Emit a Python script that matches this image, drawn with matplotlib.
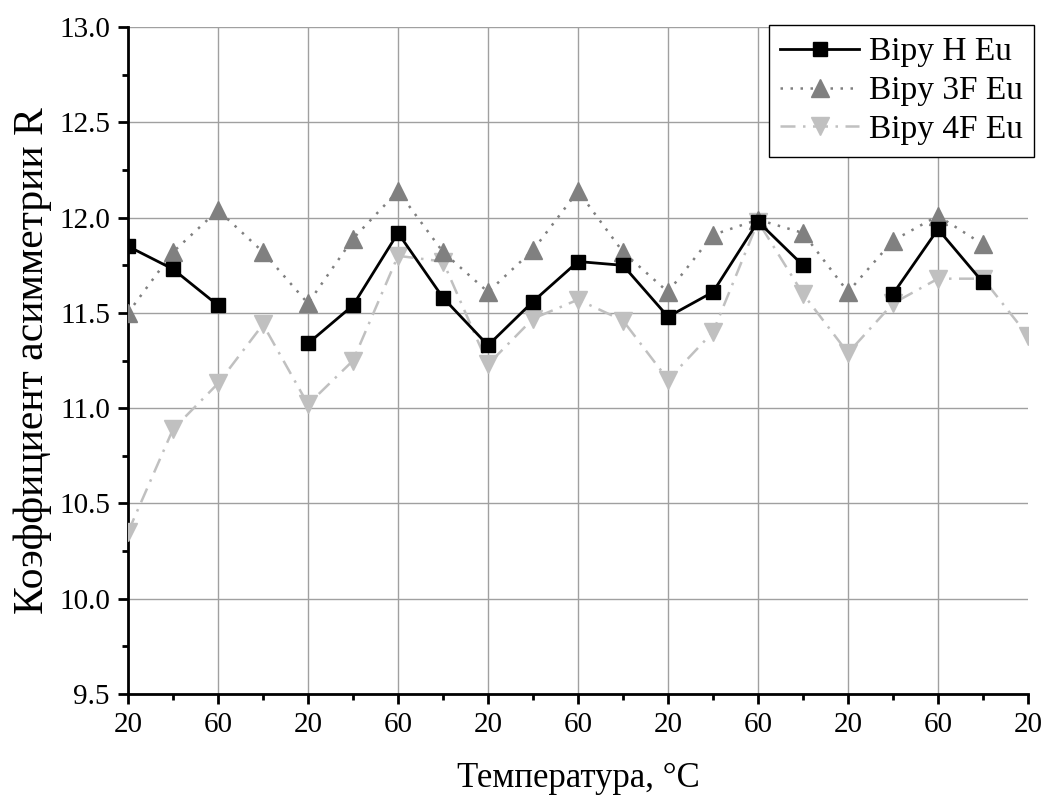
import numpy as np
import matplotlib
matplotlib.use('Agg')
import matplotlib.pyplot as plt
from matplotlib.ticker import MultipleLocator

plt.rcParams['font.family'] = ['Liberation Serif', 'DejaVu Serif']

# temperature cycle 20-40-60-80, repeated; labels only at every second point
temp_labels = ['20', '60'] * 5 + ['20']
nan = np.nan
bipy_h = [11.85, 11.73, 11.54, nan, 11.34, 11.54, 11.92, 11.58, 11.33, 11.56, 11.77,
          11.75, 11.48, 11.61, 11.98, 11.75, nan, 11.60, 11.94, 11.66, nan]
bipy_3f = [11.50, 11.82, 12.04, 11.82, 11.55, 11.89, 12.14, 11.82, 11.61, 11.83, 12.14,
           11.82, 11.61, 11.91, 11.99, 11.92, 11.61, 11.88, 12.01, 11.86, nan]
bipy_4f = [10.35, 10.89, 11.13, 11.44, 11.02, 11.25, 11.80, 11.77, 11.23, 11.47, 11.57,
           11.46, 11.15, 11.40, 11.98, 11.60, 11.29, 11.55, 11.68, 11.68, 11.38]

x = np.arange(len(bipy_4f))

fig = plt.figure(figsize=(10.46, 8.0), dpi=100)
ax = fig.add_axes([0.1224, 0.1325, 0.8604, 0.8335])

ax.plot(x, bipy_h, color='black', lw=2.0, ls='-', marker='s', ms=10.5,
        label='Bipy H Eu', zorder=5)
ax.plot(x, bipy_3f, color='#808080', lw=1.8, ls=(0, (1, 3)), marker='^', ms=13.5,
        label='Bipy 3F Eu', zorder=4)
ax.plot(x, bipy_4f, color='#c0c0c0', lw=1.8, ls=(0, (6, 3, 1, 3)), marker='v', ms=13.5,
        label='Bipy 4F Eu', zorder=3)

ax.set_xlim(0, 20)
ax.set_ylim(9.5, 13.0)
ax.set_xticks(x[::2])
ax.set_xticklabels(temp_labels)
ax.xaxis.set_minor_locator(MultipleLocator(1))
ax.yaxis.set_major_locator(MultipleLocator(0.5))
ax.yaxis.set_minor_locator(MultipleLocator(0.25))
ax.yaxis.set_major_formatter(matplotlib.ticker.FormatStrFormatter('%.1f'))

ax.grid(True, which='major', color='#a0a0a0', lw=1.0)
ax.set_axisbelow(True)
ax.xaxis.get_gridlines()[-1].set_visible(False)
ax.yaxis.get_gridlines()[-1].set_visible(False)

for s in ['top', 'right']:
    ax.spines[s].set_visible(False)
for s in ['left', 'bottom']:
    ax.spines[s].set_linewidth(2.0)
ax.tick_params(which='major', direction='out', length=7, width=2, labelsize=21, pad=6)
ax.tick_params(which='minor', direction='out', length=4, width=2)

ax.set_xlabel('Температура, °C', fontsize=25, labelpad=17)
ax.set_ylabel('Коэффициент асимметрии R', fontsize=30, labelpad=5)

leg = ax.legend(loc='upper right', bbox_to_anchor=(1.007, 1.003), borderaxespad=0,
                fontsize=24, fancybox=False, framealpha=1, edgecolor='black',
                handlelength=2.35, handletextpad=0.3, labelspacing=0.25,
                borderpad=0.35)
leg.get_frame().set_linewidth(1.0)

fig.savefig('out.png', dpi=100)
